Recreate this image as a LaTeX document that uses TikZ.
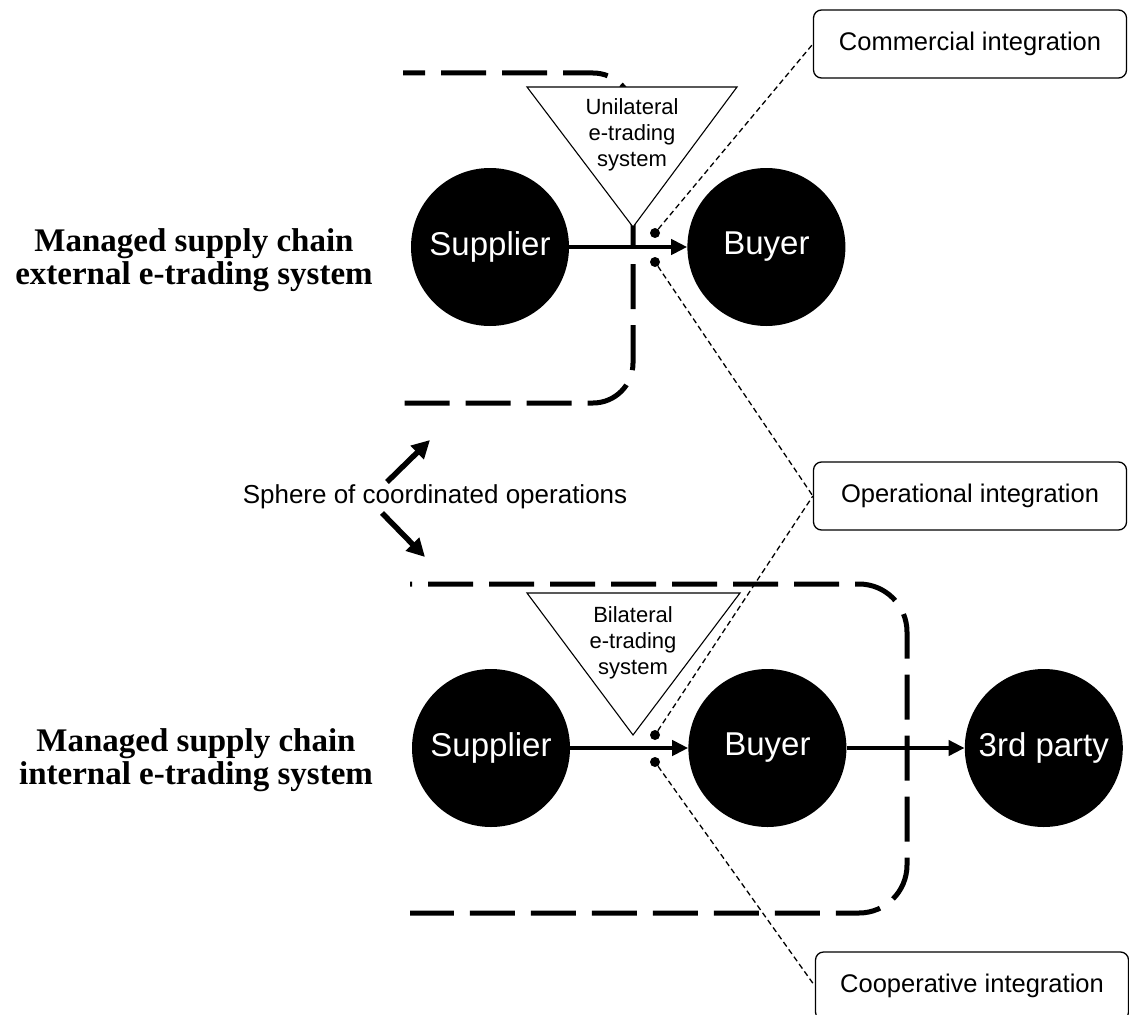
\documentclass[tikz,border=0pt]{standalone}
\usepackage{fontspec}
\setmainfont{Liberation Serif}
\setsansfont{Liberation Sans}
\usetikzlibrary{positioning, arrows.meta}

\begin{document}
\begin{tikzpicture}[
  x=1pt, y=-1pt, >={Triangle[length=16pt,width=15pt]}, node distance=118pt,
  party/.style={circle, fill=black, text=white, minimum size=158pt, inner sep=0pt, font=\sffamily\fontsize{33}{36}\selectfont},
  tag/.style={draw, rectangle, rounded corners=8pt, line width=1.3pt, minimum width=313pt, minimum height=68pt, font=\sffamily\fontsize{25.5}{30}\selectfont},
  sys/.style={align=center, inner sep=0pt, font=\sffamily\fontsize{22}{26}\selectfont},
  title/.style={align=center, font=\bfseries\fontsize{33}{33}\selectfont},
  sphere/.style={line width=5pt, dash pattern=on 45pt off 16pt},
  tri/.style={draw, fill=white, line width=1.1pt},
  dot/.style={circle, fill=black, minimum size=10pt, inner sep=0pt},
  link/.style={line width=1.3pt, dash pattern=on 5.5pt off 3.5pt},
  flow/.style={->, line width=4pt},
  pointer/.style={-{Triangle[length=18pt,width=18pt]}, line width=5.5pt}
]
\useasboundingbox (0,0) rectangle (1129,1014);

\draw[sphere, dash phase=23pt, rounded corners=40pt] (403,73) -- (633,73) -- (633,403) -- (403,403);
\draw[sphere, dash phase=43pt, rounded corners=48pt] (410,584) -- (907,584) -- (907,913) -- (410,913);

\draw[tri] (527,87) -- (737,87) -- (633,227) -- cycle;
\node[sys] (uni) at (632,135) {Unilateral\\e-trading\\system};
\draw[tri] (527,593) -- (740,593) -- (633,735) -- cycle;
\node[sys] (bil) at (633,643) {Bilateral\\e-trading\\system};

\node[party] (sup1) at (490,247) {Supplier};
\node[party, right=of sup1] (buy1) {Buyer};
\node[party] (sup2) at (491,748) {Supplier};
\node[party, right=of sup2] (buy2) {Buyer};
\node[party, right=of buy2] (third) {3rd party};

\draw[flow] (sup1) -- (buy1);
\draw[flow] (sup2) -- (buy2);
\draw[flow] (buy2) -- (third);

\node[title] (ext) at (194,260) {Managed supply chain\\external e-trading system};
\node[title] (int) at (196,760) {Managed supply chain\\internal e-trading system};

\node[font=\sffamily\fontsize{26}{30}\selectfont] (sphere) at (435,497) {Sphere of coordinated operations};
\coordinate (up1) at (387,482);
\coordinate (up2) at (430,440);
\coordinate (dn1) at (382,513);
\coordinate (dn2) at (425,557);
\draw[pointer] (up1) -- (up2);
\draw[pointer] (dn1) -- (dn2);

\node[tag] (comm) at (970,44) {Commercial integration};
\node[tag] (oper) at (970,496) {Operational integration};
\node[tag] (coop) at (972,986) {Cooperative integration};

\node[dot] (d1a) at (655,233) {};
\node[dot] (d1b) at (655,262) {};
\node[dot] (d2a) at (655,735) {};
\node[dot] (d2b) at (655,762) {};

\draw[link] (d1a) -- (comm.west);
\draw[link] (d1b) -- (oper.west);
\draw[link] (d2a) -- (oper.west);
\draw[link] (d2b) -- (coop.west);

\end{tikzpicture}
\end{document}
